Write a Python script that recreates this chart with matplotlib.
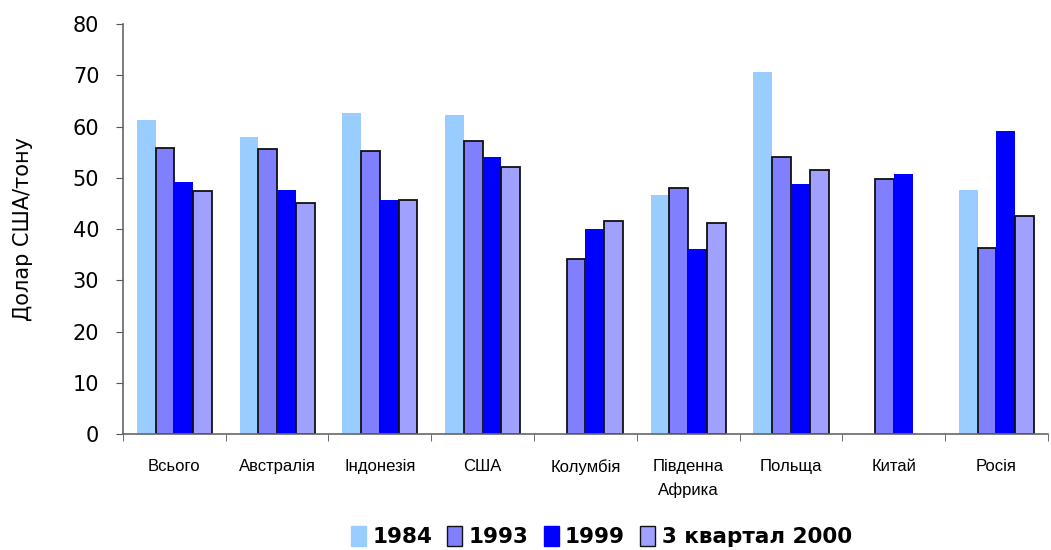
import numpy as np
import matplotlib
matplotlib.use("Agg")
from matplotlib import pyplot as plt
from matplotlib.patches import Patch

#data
categories=["Всього","Австралія","Індонезія","США","Колумбія","Південна\nАфрика","Польща","Китай","Росія"]
series_names=["1984","1993","1999","3 квартал 2000"]
v1984=[61.3,57.9,62.6,62.2,np.nan,46.6,70.6,np.nan,47.6]
v1993=[55.9,55.6,55.3,57.2,34.1,48.1,54.0,49.8,36.3]
v1999=[49.1,47.6,45.7,54.0,40.0,36.1,48.8,50.7,59.1]
v2000=[47.5,45.0,45.7,52.2,41.6,41.2,51.6,np.nan,42.6]
yticks=[0,10,20,30,40,50,60,70,80]

colors=["#99CCFF","#8080FF","#0000FF","#A0A0FF"]
edges=[False,True,False,True]

fig=plt.figure(figsize=(10.51,5.5),dpi=100)
ax=fig.add_axes([0.117,0.211,0.880,0.745])

x=np.arange(len(categories))
w=0.183
for i,vals in enumerate([v1984,v1993,v1999,v2000]):
    pos=x+(i-1.5)*w
    if edges[i]:
        ax.bar(pos,vals,w,color=colors[i],edgecolor="#111111",linewidth=1.3)
    else:
        ax.bar(pos,vals,w,color=colors[i],linewidth=0)

ax.set_xlim(-0.5,len(categories)-0.5)
ax.set_ylim(0,80)
ax.set_yticks(yticks)
ax.set_yticklabels([str(t) for t in yticks],fontsize=15,family="DejaVu Sans")
ax.set_ylabel("Долар США/тону",fontsize=15)
ax.yaxis.set_label_coords(-0.097,0.5)

ax.set_xticks(x)
ax.set_xticklabels(categories,fontsize=12,family="Liberation Sans",linespacing=1.7,va="top")
ax.tick_params(axis="x",length=0,pad=18)
ax.set_xticks(np.arange(len(categories)+1)-0.5,minor=True)
ax.tick_params(axis="x",which="minor",length=5,color="#555555",direction="out")
ax.tick_params(axis="y",length=5,color="#555555",direction="out",pad=12)

for s in ["top","right"]:
    ax.spines[s].set_visible(False)
for s in ["left","bottom"]:
    ax.spines[s].set_color("#666666")
    ax.spines[s].set_linewidth(1.2)

handles=[Patch(facecolor=colors[i],edgecolor="#111111" if edges[i] else colors[i],linewidth=1.0) for i in range(4)]
leg=fig.legend(handles,series_names,loc="center",bbox_to_anchor=(0.572,0.024),ncol=4,frameon=False,
               prop={"weight":"bold","size":15.5},handlelength=0.7,handleheight=1.0,handletextpad=0.3,columnspacing=0.7)

fig.savefig("out.png",dpi=100)
